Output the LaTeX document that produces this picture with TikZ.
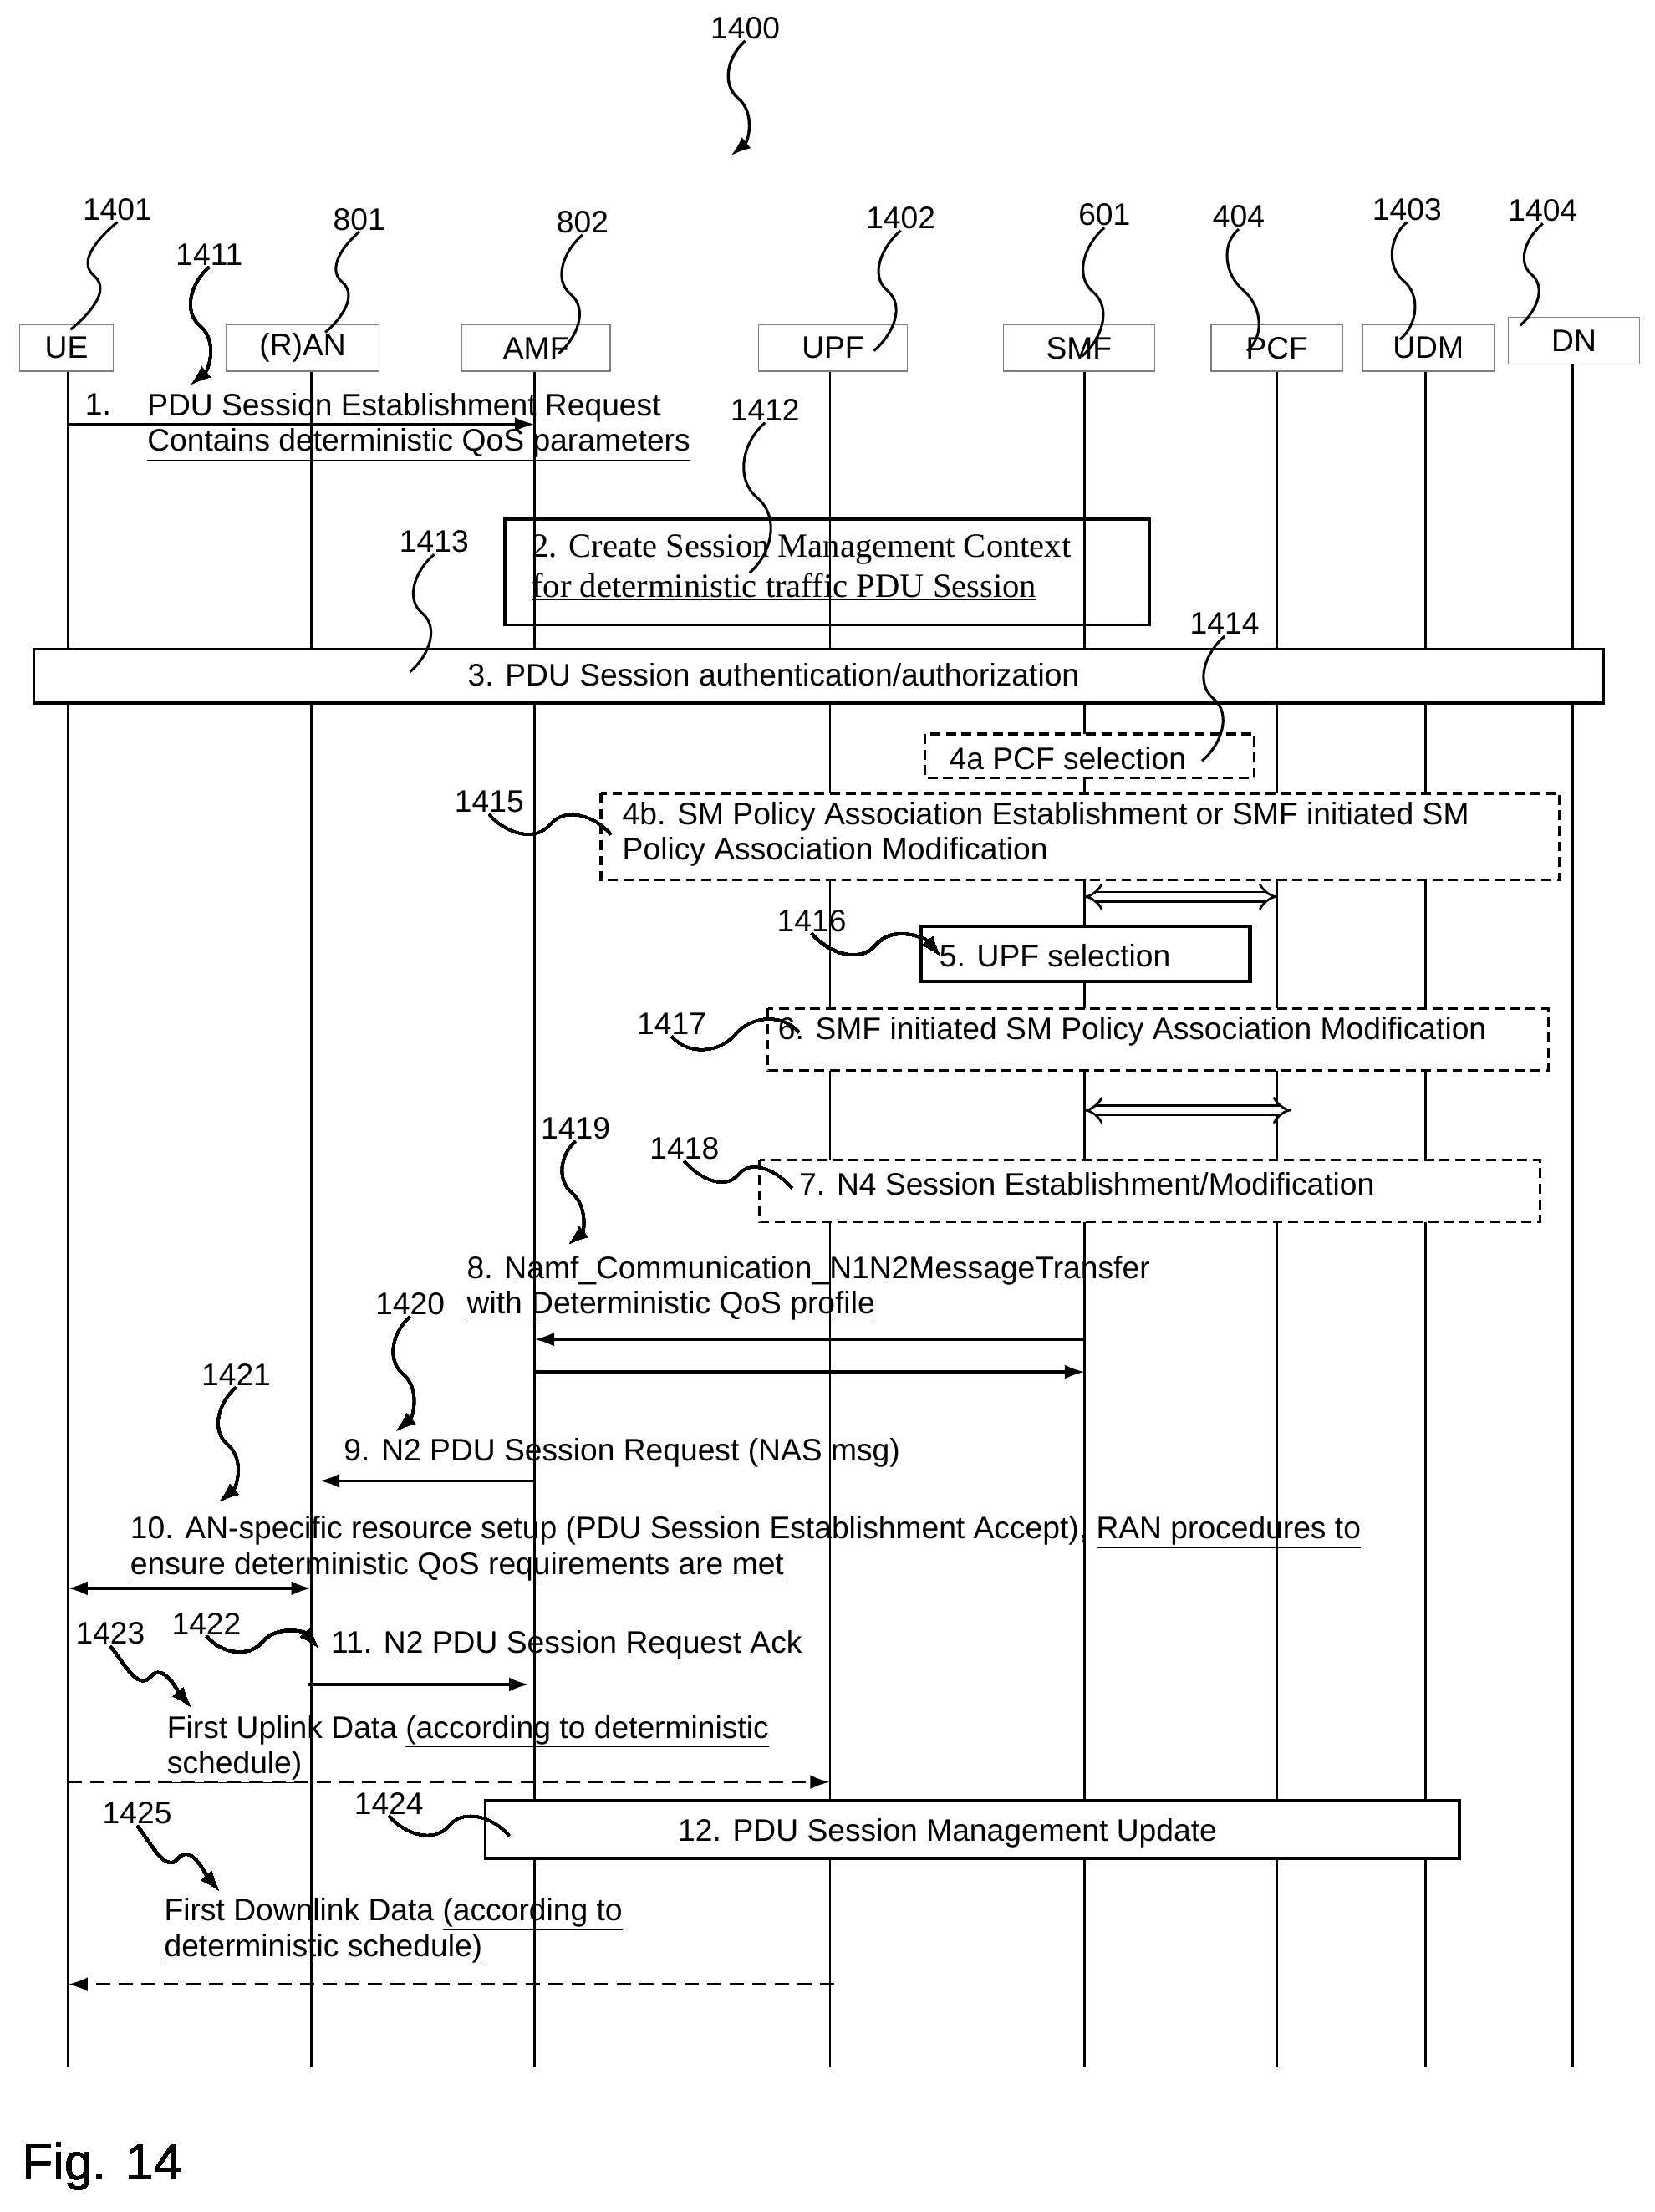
\documentclass[tikz,border=0pt]{standalone}
\usepackage{fontspec}
\setmainfont{Liberation Sans}
\newfontfamily\serifa{Liberation Serif}
\usetikzlibrary{arrows.meta,calc}
\newcommand\squig[3][]{\draw[line width=1.8pt,#1] (#2) to[out=220,in=140] ($(#2)!.5!(#3)$) to[out=-40,in=40] (#3);}
\newcommand\squigh[3][]{\draw[line width=1.8pt,#1] (#2) to[out=-50,in=-130] ($(#2)!.5!(#3)$) to[out=50,in=130] (#3);}
\tikzset{
  head/.style={draw=gray,line width=0.8pt,minimum width=#1,minimum height=33pt,inner sep=0pt},
  life/.style={line width=1.6pt},
  msg/.style={line width=2pt,-{Latex[length=14pt,width=10pt]}},
  dmsg/.style={msg,dashed,dash pattern=on 10pt off 6pt},
  dbl/.style={double,double distance=5pt,line width=1.6pt,{Implies}-{Implies}},
  txt/.style={align=left,anchor=north west,inner sep=0pt,font=\fontsize{22}{25}\selectfont},
  sbox/.style={draw,line width=2pt},
  dbox/.style={draw,line width=2pt,dashed,dash pattern=on 7pt off 4pt},
  num/.style={font=\fontsize{22}{24}\selectfont,inner sep=1pt},
}
\begin{document}
\begin{tikzpicture}[x=1pt,y=-1pt]
\useasboundingbox (0,0) rectangle (1170,1564);
\fontsize{22}{25}\selectfont
% headers
\node[head=66pt] (ue) at (47,246) {UE};
\node[head=108pt] (ran) at (214,246) {(R)AN};
\node[head=105pt] (amf) at (379,246) {AMF};
\node[head=105pt] (upf) at (589,246) {UPF};
\node[head=107pt] (smf) at (763,246) {SMF};
\node[head=93pt] (pcf) at (903,246) {PCF};
\node[head=93pt] (udm) at (1010,246) {UDM};
\node[head=93pt] (dn) at (1113,241) {DN};
% lifelines
\coordinate (ueL) at (48,1462);
\coordinate (ranL) at (220,1462);
\coordinate (amfL) at (378,1462);
\coordinate (upfL) at (587,1462);
\coordinate (smfL) at (767,1462);
\coordinate (pcfL) at (903,1462);
\coordinate (udmL) at (1008,1462);
\coordinate (dnL) at (1112,1462);
\foreach \n in {ue,ran,amf,upf,smf,pcf,udm,dn}
  \draw[life] (\n L |- \n.south) -- (\n L);
% 1
\draw[msg] (ueL |- 0,300) -- (amfL |- 0,300);
\node[txt] (t1a) at (60,278) {1.};
\node[txt] (t1) at (104,278) {PDU Session Establishment Request\\\underline{Contains deterministic QoS parameters}};
% 2
\draw[sbox] (357,367) rectangle (813,442);
\node[txt,font=\serifa\fontsize{24}{28}\selectfont] (t2) at (376,378) {2. Create Session Management Context\\\underline{for deterministic traffic PDU Session}};
% 3
\draw[sbox,fill=white] (24,459) rectangle (1134,497);
\node (t3) at (547,477) {3. PDU Session authentication/authorization};
% 4a 4b
\draw[dbox,fill=white] (654,519) rectangle (887,550);
\node (t4a) at (755,536) {4a PCF selection};
\draw[dbox,fill=white] (425,561) rectangle (1103,622);
\node[txt] (t4b) at (440,567) {4b. SM Policy Association Establishment or SMF initiated SM\\Policy Association Modification};
\draw[dbl] (smfL |- 0,634) -- (pcfL |- 0,634);
% 5
\draw[sbox,line width=2.6pt,fill=white] (651,655) rectangle (884,694);
\node (t5) at (746,676) {5. UPF selection};
% 6
\draw[dbox,fill=white] (543,713) rectangle (1095,757);
\node[txt] (t6) at (550,719) {6. SMF initiated SM Policy Association Modification};
\draw[dbl] (smfL |- 0,785) -- (913,785);
% 7
\draw[dbox,fill=white] (537,820) rectangle (1089,864);
\node[txt] (t7) at (565,829) {7. N4 Session Establishment/Modification};
% 8
\node[txt] (t8) at (330,888) {8. Namf\_Communication\_N1N2MessageTransfer\\\underline{with Deterministic QoS profile}};
\draw[msg] (smfL |- 0,947) -- (amfL |- 0,947);
\draw[msg] (amfL |- 0,970) -- (smfL |- 0,970);
% 9
\node[txt] (t9) at (243,1017) {9. N2 PDU Session Request (NAS msg)};
\draw[msg] (amfL |- 0,1047) -- (226,1047);
% 10
\node[txt] (t10) at (92,1072) {10. AN-specific resource setup (PDU Session Establishment Accept), \underline{RAN procedures to}\\\underline{ensure deterministic QoS requirements are met}};
\draw[msg,{Latex[length=14pt,width=10pt]}-{Latex[length=14pt,width=10pt]}] (ueL |- 0,1123) -- (ranL |- 0,1123);
% 11
\node[txt] (t11) at (234,1153) {11. N2 PDU Session Request Ack};
\draw[msg] (218,1191) -- (374,1191);
% uplink
\node[txt] (tul) at (118,1213) {First Uplink Data \underline{(according to deterministic}\\\underline{schedule)}};
\draw[dmsg] (ueL |- 0,1260) -- (upfL |- 0,1260);
% 12
\draw[sbox,fill=white] (343,1273) rectangle (1032,1314);
\node (t12) at (670,1296) {12. PDU Session Management Update};
% downlink
\node[txt] (tdl) at (116,1342) {First Downlink Data \underline{(according to}\\\underline{deterministic schedule)}};
\draw[dmsg] (590,1403) -- (ueL |- 0,1403);
% reference numerals
\node[num] (n1400) at (527,20) {1400};
\node[num] (n1401) at (83,148) {1401};
\node[num] (n1411) at (148,180) {1411};
\node[num] (n801) at (254,155) {801};
\node[num] (n802) at (412,157) {802};
\node[num] (n1402) at (637,154) {1402};
\node[num] (n601) at (781,152) {601};
\node[num] (n404) at (876,153) {404};
\node[num] (n1403) at (995,148) {1403};
\node[num] (n1404) at (1091,149) {1404};
\node[num] (n1412) at (541,290) {1412};
\node[num] (n1413) at (307,383) {1413};
\node[num] (n1414) at (866,441) {1414};
\node[num] (n1415) at (346,567) {1415};
\node[num] (n1416) at (574,651) {1416};
\node[num] (n1417) at (475,724) {1417};
\node[num] (n1418) at (484,812) {1418};
\node[num] (n1419) at (407,798) {1419};
\node[num] (n1420) at (290,922) {1420};
\node[num] (n1421) at (167,972) {1421};
\node[num] (n1422) at (146,1148) {1422};
\node[num] (n1423) at (78,1155) {1423};
\node[num] (n1424) at (275,1275) {1424};
\node[num] (n1425) at (97,1282) {1425};
\coordinate (e1400) at (517,110);
\coordinate (e1401) at (50,233);
\coordinate (e1411) at (135,272);
\coordinate (e801) at (230,235);
\coordinate (e802) at (395,250);
\coordinate (e1402) at (618,248);
\coordinate (e601) at (765,252);
\coordinate (e404) at (882,248);
\coordinate (e1403) at (990,240);
\coordinate (e1404) at (1075,230);
\coordinate (e1412) at (530,405);
\coordinate (e1413) at (290,475);
\coordinate (e1414) at (850,538);
\coordinate (e1415) at (432,590);
\coordinate (e1416) at (665,676);
\coordinate (e1417) at (565,730);
\coordinate (e1418) at (560,840);
\coordinate (e1419) at (402,880);
\coordinate (e1420) at (280,1012);
\coordinate (e1421) at (155,1062);
\coordinate (e1422) at (225,1165);
\coordinate (e1423) at (135,1207);
\coordinate (e1424) at (360,1298);
\coordinate (e1425) at (155,1337);
\squig[msg]{n1400.south}{e1400}
\foreach \n in {1401,801,802,1402,601,404,1403,1404,1412,1413,1414}
  \squig{n\n.south}{e\n}
\foreach \n in {1411,1419,1420,1421}
  \squig[msg]{n\n.south}{e\n}
\foreach \n in {1415,1417,1418,1424}
  \squigh{n\n.south}{e\n}
\squigh[msg]{n1416.south}{e1416}
\foreach \n in {1422,1423,1425}
  \squigh[msg]{n\n.south}{e\n}
\node[anchor=west,font=\fontsize{36}{40}\selectfont] (fig) at (8,1532) {Fig. 14};
\end{tikzpicture}
\end{document}
